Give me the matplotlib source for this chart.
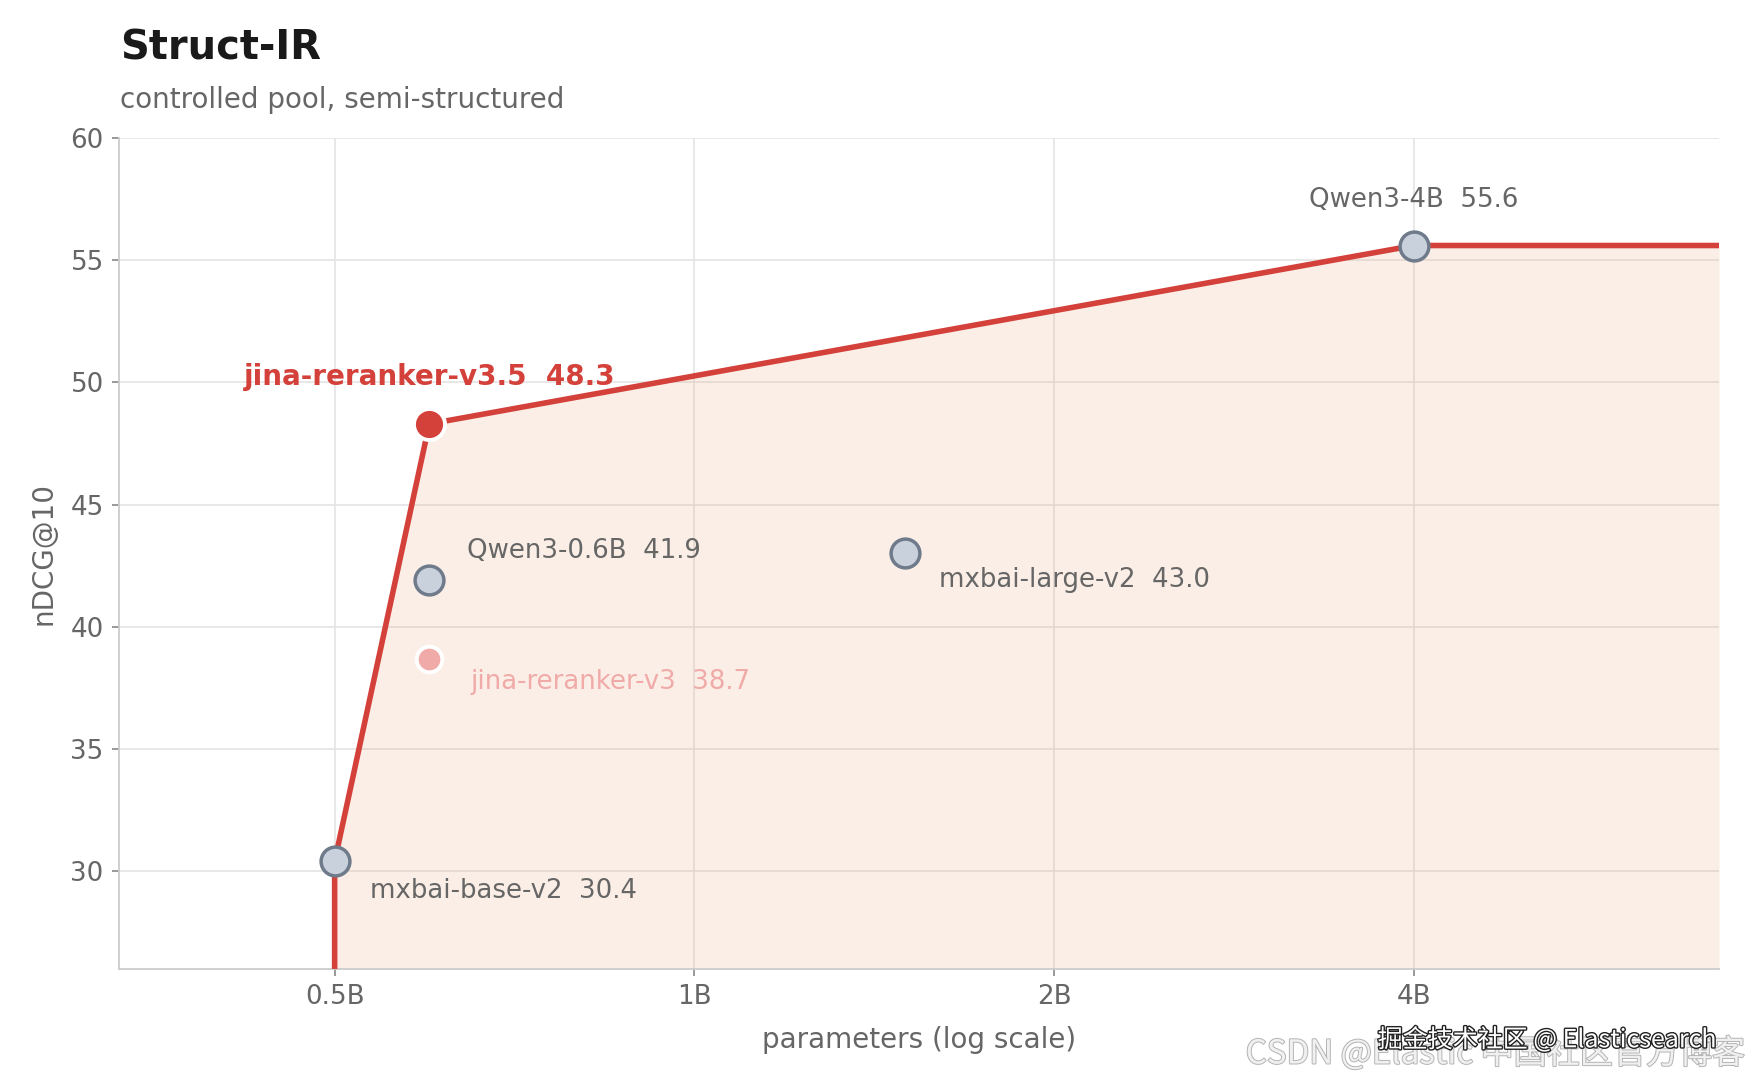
import matplotlib
matplotlib.use("Agg")
import matplotlib.pyplot as plt
import matplotlib.patheffects as pe
import numpy as np

# ---- data ----
models = ["mxbai-base-v2", "jina-reranker-v3.5", "Qwen3-0.6B", "jina-reranker-v3", "mxbai-large-v2", "Qwen3-4B"]
params_b = [0.5, 0.6, 0.6, 0.6, 1.5, 4.0]
ndcg = [30.4, 48.3, 41.9, 38.7, 43.0, 55.6]
kinds = ["other", "hero", "other", "old", "other", "other"]
xtick_vals = [0.5, 1, 2, 4]
xtick_labels = ["0.5B", "1B", "2B", "4B"]
ytick_vals = [30, 35, 40, 45, 50, 55, 60]
xlim = (0.33, 7.2)
ylim = (26, 60)

RED = "#d4403a"
GRAY_FILL = "#c8d1dc"
GRAY_EDGE = "#6f7b8b"
PINK = "#f0aaa8"
TXT = "#666666"

plt.rcParams['font.family'] = ['DejaVu Sans']

fig = plt.figure(figsize=(17.47, 10.83), dpi=100)
ax = fig.add_axes([0.0681, 0.1053, 0.9159, 0.7673])
ax.set_xscale("log")
ax.set_xlim(*xlim)
ax.set_ylim(*ylim)

# Pareto frontier from data (current-gen models only)
cand = [(p, v) for p, v, k in zip(params_b, ndcg, kinds) if k != "old"]
cand.sort(key=lambda t: (t[0], -t[1]))
front = []
best = -np.inf
for p, v in cand:
    if v > best:
        front.append((p, v))
        best = v
fx = [front[0][0]] + [p for p, v in front] + [xlim[1]]
fy = [ylim[0]] + [v for p, v in front] + [front[-1][1]]

ax.fill_between(fx, fy, ylim[0], color="#e8a070", alpha=0.17, linewidth=0, zorder=1)
ax.plot(fx, fy, color=RED, lw=4.0, zorder=3, solid_capstyle="butt", clip_on=True)

# grid and spines
ax.grid(True, color="#e4e4e4", lw=1.2, zorder=0)
ax.set_axisbelow(True)
for s in ["top", "right"]:
    ax.spines[s].set_visible(False)
for s in ["left", "bottom"]:
    ax.spines[s].set_color("#cccccc")
    ax.spines[s].set_linewidth(1.3)

ax.set_xticks(xtick_vals)
ax.set_xticklabels(xtick_labels)
ax.xaxis.set_minor_locator(matplotlib.ticker.NullLocator())
ax.set_yticks(ytick_vals)
ax.tick_params(axis="both", colors="#888888", labelcolor=TXT, labelsize=18.8, length=5, width=1.2, pad=6)

ax.set_xlabel("parameters (log scale)", fontsize=20, color=TXT, labelpad=11)
ax.set_ylabel("nDCG@10", fontsize=20, color=TXT, labelpad=9)

# markers
for p, v, k in zip(params_b, ndcg, kinds):
    if k == "hero":
        ax.scatter([p], [v], s=500, color=RED, edgecolor="white", linewidth=2.8, zorder=6)
    elif k == "old":
        ax.scatter([p], [v], s=340, color=PINK, edgecolor="white", linewidth=2.8, zorder=5)
    else:
        ax.scatter([p], [v], s=430, color=GRAY_FILL, edgecolor=GRAY_EDGE, linewidth=2.5, zorder=5)

# labels: offsets in pixels
offsets = {
    "mxbai-base-v2": (35, -30, "left"),
    "jina-reranker-v3.5": (0, 47, "center"),
    "Qwen3-0.6B": (38, 29, "left"),
    "jina-reranker-v3": (41, -23, "left"),
    "mxbai-large-v2": (34, -27, "left"),
    "Qwen3-4B": (0, 46, "center"),
}
for m, p, v, k in zip(models, params_b, ndcg, kinds):
    dx, dy, ha = offsets[m]
    if k == "hero":
        kw = dict(color=RED, fontsize=20, fontweight="bold")
    elif k == "old":
        kw = dict(color=PINK, fontsize=18.7)
    else:
        kw = dict(color=TXT, fontsize=18.7)
    ax.annotate(f"{m}  {v:.1f}", (p, v), xytext=(dx, dy), textcoords="offset pixels",
                ha=ha, va="center", zorder=7, **kw)

# title / subtitle
fig.text(120 / 1747, 1 - 59 / 1083, "Struct-IR", fontsize=28.8, fontweight="bold", color="#1a1a1a", va="baseline", ha="left")
fig.text(120 / 1747, 1 - 108 / 1083, "controlled pool, semi-structured", fontsize=20, color=TXT, va="baseline", ha="left")

# watermarks
fig.text(1745 / 1747, 1 - 1054 / 1083, "CSDN @Elastic 中国社区官方博客", fontsize=23.8,
         family=["Noto Sans CJK SC", "DejaVu Sans"], color="#f0f0f0", ha="right", va="center",
         path_effects=[pe.withStroke(linewidth=1.4, foreground="#b4b4b4")])
fig.text(1716 / 1747, 1 - 1040 / 1083, "掘金技术社区 @ Elasticsearch", fontsize=18,
         family=["Noto Sans CJK SC", "DejaVu Sans"], color="white", ha="right", va="center",
         path_effects=[pe.withStroke(linewidth=2.0, foreground="#222222")])

fig.savefig("out.png", dpi=100)
